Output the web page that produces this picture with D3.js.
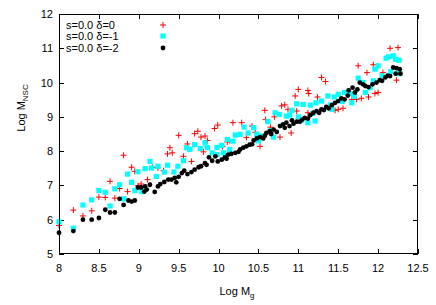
<!DOCTYPE html>
<html>
<head>
<meta charset="utf-8">
<script src="https://cdn.jsdelivr.net/npm/d3@7"></script>
<style>
  body { margin: 0; background: #fff; }
  text { font-family: "Liberation Sans", Arial, sans-serif; font-size: 11px; fill: #000; }
</style>
</head>
<body>
<script>
// series: [log Mg, log M_NSC]
const seriesD0 = [
  [8.00, 5.83], [8.18, 6.28], [8.30, 6.11], [8.41, 6.26], [8.50, 6.66], [8.58, 6.65],
  [8.64, 7.12], [8.70, 6.63], [8.76, 6.91], [8.81, 7.88], [8.86, 6.82], [8.91, 7.53],
  [8.95, 7.41], [8.99, 6.99], [9.03, 7.04], [9.11, 7.17], [9.17, 7.53], [9.24, 7.51],
  [9.31, 7.43], [9.36, 7.92], [9.39, 8.10], [9.42, 7.95], [9.50, 8.46], [9.56, 7.85],
  [9.61, 8.21], [9.66, 7.70], [9.70, 8.51], [9.74, 8.58], [9.78, 8.41], [9.81, 7.98],
  [9.83, 8.44], [9.86, 8.31], [9.95, 8.66], [9.99, 8.76], [10.05, 8.14], [10.11, 8.27],
  [10.14, 8.31], [10.18, 8.83], [10.29, 8.83], [10.35, 8.40], [10.42, 8.73], [10.46, 8.55],
  [10.52, 8.14], [10.58, 9.19], [10.59, 8.92], [10.65, 8.70], [10.70, 9.00], [10.77, 8.41],
  [10.79, 9.32], [10.83, 9.35], [10.87, 9.22], [10.91, 8.53], [10.96, 9.61], [10.98, 9.17],
  [11.00, 9.80], [11.12, 9.77], [11.13, 9.68], [11.12, 9.12], [11.24, 9.58], [11.29, 10.15],
  [11.34, 10.03], [11.46, 9.19], [11.50, 9.22], [11.56, 9.25], [11.67, 9.51], [11.73, 9.51],
  [11.75, 10.49], [11.79, 9.54], [11.86, 10.29], [11.88, 9.58], [11.94, 10.52], [11.96, 9.68],
  [12.00, 9.71], [12.06, 10.29], [12.15, 11.00], [12.23, 10.07], [12.25, 11.02]
]
const seriesD1 = [
  [8.00, 5.94], [8.18, 5.75], [8.30, 6.43], [8.41, 6.58], [8.50, 6.85], [8.58, 6.80],
  [8.64, 6.40], [8.70, 6.90], [8.76, 7.02], [8.81, 6.61], [8.86, 7.33], [8.91, 7.09],
  [8.95, 6.85], [8.99, 7.40], [9.04, 6.82], [9.08, 7.49], [9.14, 7.70], [9.16, 7.51],
  [9.22, 7.26], [9.24, 7.56], [9.32, 7.39], [9.36, 7.59], [9.44, 7.39], [9.49, 7.56],
  [9.56, 7.72], [9.60, 8.10], [9.64, 8.05], [9.70, 8.19], [9.77, 8.08], [9.83, 8.24],
  [9.86, 8.10], [9.92, 7.95], [9.98, 8.11], [9.98, 7.90], [10.04, 8.17], [10.06, 7.95],
  [10.11, 8.34], [10.14, 8.05], [10.18, 8.29], [10.21, 8.47], [10.27, 8.49], [10.32, 8.70],
  [10.37, 8.53], [10.44, 8.68], [10.48, 8.49], [10.50, 8.30], [10.54, 8.44], [10.62, 8.86],
  [10.66, 8.60], [10.69, 8.41], [10.71, 9.12], [10.76, 9.07], [10.80, 8.75], [10.85, 9.02],
  [10.89, 9.05], [10.92, 9.19], [10.98, 9.38], [11.00, 9.00], [11.04, 8.90], [11.06, 9.36],
  [11.12, 8.83], [11.15, 9.34], [11.18, 9.10], [11.21, 8.88], [11.22, 9.41], [11.29, 9.46],
  [11.37, 9.61], [11.40, 9.35], [11.42, 9.22], [11.45, 9.58], [11.50, 9.66], [11.55, 9.45],
  [11.58, 9.71], [11.66, 9.68], [11.67, 9.41], [11.70, 9.60], [11.75, 10.13], [11.81, 10.00],
  [11.84, 9.71], [11.90, 9.85], [11.94, 10.05], [11.96, 10.39], [12.00, 10.49], [12.05, 10.20],
  [12.10, 10.71], [12.13, 10.75], [12.16, 10.32], [12.19, 10.78], [12.22, 10.68], [12.26, 10.65],
  [12.27, 10.26]
]
const seriesD2 = [
  [8.00, 5.62], [8.18, 5.67], [8.30, 6.00], [8.41, 6.00], [8.50, 6.05], [8.58, 6.29],
  [8.64, 6.21], [8.70, 6.21], [8.76, 6.61], [8.81, 6.43], [8.87, 6.56], [8.91, 6.53],
  [8.95, 6.56], [8.99, 6.94], [9.03, 6.94], [9.07, 6.82], [9.08, 6.97], [9.10, 6.88],
  [9.14, 7.02], [9.20, 6.81], [9.24, 6.97], [9.27, 7.04], [9.32, 7.10], [9.37, 7.17],
  [9.41, 7.17], [9.45, 7.22], [9.47, 7.09], [9.50, 7.25], [9.54, 7.36], [9.57, 7.43],
  [9.61, 7.33], [9.66, 7.39], [9.70, 7.46], [9.75, 7.53], [9.78, 7.56], [9.83, 7.65],
  [9.85, 7.60], [9.88, 7.82], [9.92, 7.72], [9.96, 7.85], [9.99, 7.70], [10.04, 7.75],
  [10.08, 7.82], [10.10, 7.78], [10.12, 7.90], [10.16, 7.92], [10.21, 7.95], [10.25, 7.98],
  [10.27, 8.05], [10.31, 8.10], [10.35, 8.14], [10.39, 8.19], [10.42, 8.20], [10.44, 8.31],
  [10.48, 8.37], [10.52, 8.41], [10.56, 8.37], [10.58, 8.45], [10.60, 8.53], [10.64, 8.58],
  [10.66, 8.50], [10.69, 8.63], [10.73, 8.56], [10.77, 8.73], [10.81, 8.78], [10.83, 8.68],
  [10.85, 8.83], [10.89, 8.73], [10.92, 8.90], [10.94, 8.80], [10.98, 8.86], [11.02, 8.86],
  [11.05, 8.92], [11.08, 8.97], [11.12, 8.95], [11.15, 9.05], [11.19, 9.12], [11.23, 9.17],
  [11.26, 9.12], [11.29, 9.22], [11.32, 9.20], [11.35, 9.29], [11.38, 9.25], [11.42, 9.34],
  [11.46, 9.41], [11.50, 9.46], [11.54, 9.54], [11.58, 9.51], [11.62, 9.62], [11.63, 9.77],
  [11.68, 9.85], [11.71, 9.71], [11.74, 9.80], [11.77, 10.00], [11.81, 9.95], [11.84, 9.90],
  [11.88, 9.87], [11.93, 9.95], [11.98, 10.00], [12.02, 10.07], [12.05, 10.05], [12.09, 10.15],
  [12.12, 10.20], [12.15, 10.19], [12.19, 10.44], [12.22, 10.26], [12.23, 10.42], [12.27, 10.39],
  [12.28, 10.26]
]
const seriesNames = ["s=0.0 \u03b4=0", "s=0.0 \u03b4=-1", "s=0.0 \u03b4=-2"]
const xTicks = [8, 8.5, 9, 9.5, 10, 10.5, 11, 11.5, 12, 12.5]
const yTicks = [5, 6, 7, 8, 9, 10, 11, 12]

const W = 436, H = 305
const mLeft = 59, mRight = 418, mTop = 14, mBottom = 254

const svg = d3.select("body").append("svg").attr("width", W).attr("height", H)

const x = d3.scaleLinear().domain([8, 12.5]).range([mLeft, mRight])
const y = d3.scaleLinear().domain([5, 12]).range([mBottom, mTop])

// ticks on all four sides, pointing inward
const tk = 5
const gAx = svg.append("g").attr("stroke", "#000").attr("stroke-width", 1)
xTicks.forEach((t) => {
  const px = Math.round(x(t)) + 0.5
  gAx.append("line").attr("x1", px).attr("x2", px).attr("y1", mBottom).attr("y2", mBottom - tk)
  gAx.append("line").attr("x1", px).attr("x2", px).attr("y1", mTop).attr("y2", mTop + tk)
})
yTicks.forEach((t) => {
  const py = Math.round(y(t)) + 0.5
  gAx.append("line").attr("x1", mLeft).attr("x2", mLeft + tk).attr("y1", py).attr("y2", py)
  gAx.append("line").attr("x1", mRight).attr("x2", mRight - tk).attr("y1", py).attr("y2", py)
})

svg.selectAll(".xl").data(xTicks).enter().append("text")
  .attr("x", (d) => x(d)).attr("y", mBottom + 18)
  .attr("text-anchor", "middle").text((d) => d)
svg.selectAll(".yl").data(yTicks).enter().append("text")
  .attr("x", mLeft - 6).attr("y", (d) => y(d) + 4)
  .attr("text-anchor", "end").text((d) => d)

// axis titles
const xt = svg.append("text").attr("x", 237).attr("y", 295).attr("text-anchor", "middle")
xt.append("tspan").text("Log M")
xt.append("tspan").attr("dy", 3).attr("font-size", "8px").text("g")

const yt = svg.append("text").attr("transform", "translate(25,108) rotate(-90)").attr("text-anchor", "middle")
yt.append("tspan").text("Log M")
yt.append("tspan").attr("dy", 3).attr("font-size", "8px").text("NSC")

// markers
const plot = svg.append("g")
function drawPlus(g, d) {
  g.append("path")
    .attr("d", `M${d[0] - 3},${d[1]}h6M${d[0]},${d[1] - 3}v6`)
    .attr("stroke", "#ff0000").attr("stroke-width", 1).attr("fill", "none")
}
function drawSquare(g, d) {
  g.append("rect").attr("x", d[0] - 2.6).attr("y", d[1] - 2.6).attr("width", 5.2).attr("height", 5.2)
    .attr("fill", "#00ffff")
}
function drawDot(g, d) {
  g.append("circle").attr("cx", d[0]).attr("cy", d[1]).attr("r", 2.4).attr("fill", "#000")
}

const gRed = plot.append("g")
seriesD0.forEach((d) => drawPlus(gRed, [x(d[0]), y(d[1])]))
const gCyan = plot.append("g")
seriesD1.forEach((d) => drawSquare(gCyan, [x(d[0]), y(d[1])]))
const gBlack = plot.append("g")
seriesD2.forEach((d) => drawDot(gBlack, [x(d[0]), y(d[1])]))

// legend
const legY = [25, 36, 48]
const drawers = [drawPlus, drawSquare, drawDot]
seriesNames.forEach((n, i) => {
  svg.append("text").attr("x", 66).attr("y", legY[i] + 4).attr("font-size", "11.5px").text(n)
  drawers[i](svg, [163, legY[i]])
})

// frame
svg.append("rect").attr("x", mLeft + 0.5).attr("y", mTop + 0.5)
  .attr("width", mRight - mLeft - 1).attr("height", mBottom - mTop - 1)
  .attr("fill", "none").attr("stroke", "#000").attr("stroke-width", 1)
</script>
</body>
</html>
